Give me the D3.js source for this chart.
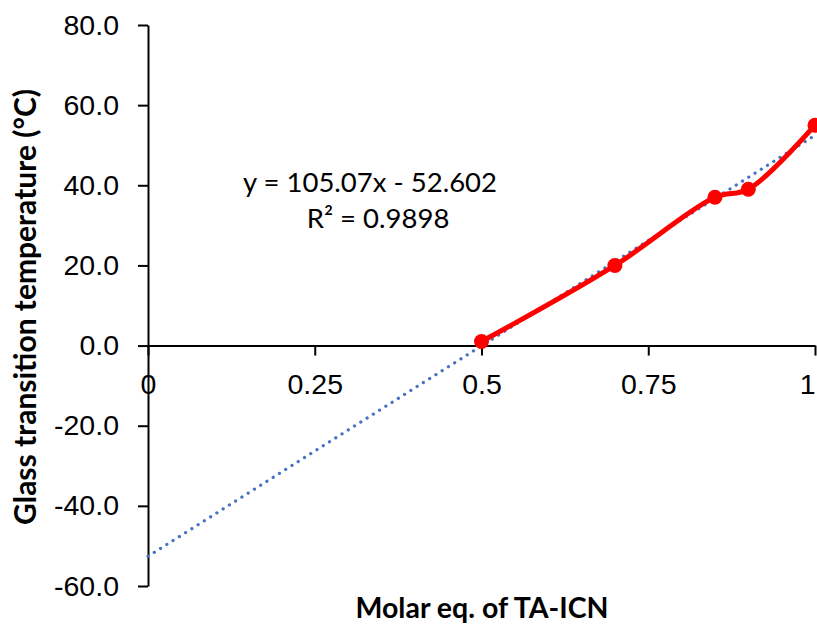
<!DOCTYPE html>
<html>
<head>
<meta charset="utf-8">
<script src="https://cdn.jsdelivr.net/npm/d3@7"></script>
<style>
  body { margin: 0; background: #fff; }
  svg { font-family: Lato, "Open Sans", sans-serif; }
  .tick text { font-size: 28.5px; fill: #000; }
  .domain, .tick line { stroke: #000; stroke-width: 2px; }
  .label { font-weight: bold; }
</style>
</head>
<body>
<svg width="817" height="626"></svg>
<script>
// chart data
const molarEq = [0.5, 0.7, 0.85, 0.9, 1];
const tg = [1, 20, 37, 39, 55];
const xTicks = [0, 0.25, 0.5, 0.75, 1];
const yTicks = [-60, -40, -20, 0, 20, 40, 60, 80];
const fit = { slope: 105.07, intercept: -52.602, r2: 0.9898 };

const svg = d3.select('svg');

const plotLeft = 148, plotRight = 815, plotTop = 25, plotBottom = 586;

const xScale = d3.scaleLinear()
    .domain([0, 1])
    .range([plotLeft, plotRight]);

const yScale = d3.scaleLinear()
    .domain([-60, 80])
    .range([plotBottom, plotTop]);

// y axis on the left
svg.append('g')
    .attr('transform', `translate(${plotLeft}, 0)`)
    .call(d3.axisLeft(yScale)
        .tickValues(yTicks)
        .tickSize(10)
        .tickSizeOuter(0)
        .tickPadding(19)
        .tickFormat((d) => d3.format('.1f')(d).replace('\u2212', '-')));

// x axis crossing at 0, labels drawn below
const xAxis = svg.append('g')
    .attr('transform', `translate(0, ${yScale(0)})`)
    .call(d3.axisBottom(xScale)
        .tickValues(xTicks)
        .tickSize(10)
        .tickSizeOuter(0)
        .tickPadding(18)
        .tickFormat((d) => String(d)));

// keep the last label inside the picture
xAxis.selectAll('.tick text')
    .filter((d) => d === 1)
    .attr('text-anchor', 'end')
    .attr('dx', 0);

// trendline
const trend = [0, 1].map((x) => ({ x: x, y: fit.slope * x + fit.intercept }));
svg.append('path')
    .datum(trend)
    .attr('fill', 'none')
    .attr('stroke', '#4472C4')
    .attr('stroke-width', 3.2)
    .attr('stroke-linecap', 'round')
    .attr('stroke-dasharray', '0.1 7.3')
    .attr('d', d3.line().x((d) => xScale(d.x)).y((d) => yScale(d.y)));

// data series
const points = molarEq.map((x, i) => ({ x: x, y: tg[i] }));
svg.append('path')
    .datum(points)
    .attr('fill', 'none')
    .attr('stroke', '#FF0000')
    .attr('stroke-width', 5)
    .attr('stroke-linejoin', 'round')
    .attr('d', d3.line()
        .curve(d3.curveCatmullRom.alpha(0.5))
        .x((d) => xScale(d.x))
        .y((d) => yScale(d.y)));

svg.append('g')
    .selectAll('circle')
    .data(points)
    .enter()
    .append('circle')
    .attr('cx', (d) => xScale(d.x))
    .attr('cy', (d) => yScale(d.y))
    .attr('r', 7.5)
    .attr('fill', '#FF0000');

// equation
svg.append('text')
    .attr('x', 370)
    .attr('y', 192)
    .attr('text-anchor', 'middle')
    .attr('font-size', 27.5)
    .text(`y = ${fit.slope}x - ${Math.abs(fit.intercept)}`);

svg.append('text')
    .attr('x', 378)
    .attr('y', 228)
    .attr('text-anchor', 'middle')
    .attr('font-size', 27.5)
    .text(`R² = ${fit.r2}`);

// axis titles
svg.append('text')
    .attr('class', 'label')
    .attr('x', 482)
    .attr('y', 618)
    .attr('text-anchor', 'middle')
    .attr('font-size', 28.5)
    .text('Molar eq. of TA-ICN');

svg.append('text')
    .attr('class', 'label')
    .attr('transform', 'translate(36, 307) rotate(-90)')
    .attr('text-anchor', 'middle')
    .attr('font-size', 30)
    .text('Glass transition temperature (°C)');
</script>
</body>
</html>
